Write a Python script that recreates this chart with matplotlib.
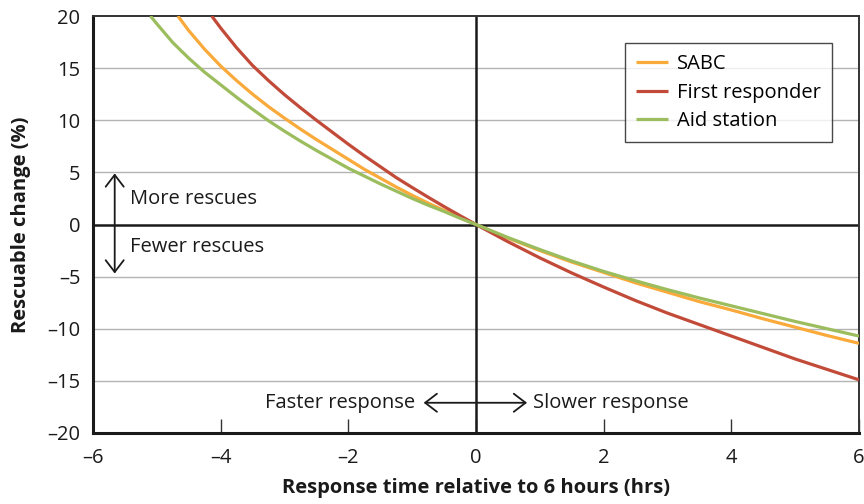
import matplotlib
matplotlib.use("Agg")
import matplotlib.pyplot as plt

plt.rcParams['font.family'] = ['Open Sans', 'DejaVu Sans']

# Data
sabc_x = [-4.67, -4.5, -4.25, -4.0, -3.75, -3.5, -3.25, -3.0, -2.75, -2.5, -2.25,
          -2.0, -1.75, -1.5, -1.25, -1.0, -0.75, -0.5, -0.25, 0.0,
          0.5, 1.0, 1.5, 2.0, 2.5, 3.0, 3.5, 4.0, 4.5, 5.0, 5.5, 6.0]
sabc_y = [20.0, 18.6, 16.8, 15.2, 13.8, 12.5, 11.3, 10.2, 9.15, 8.15, 7.2,
          6.25, 5.3, 4.45, 3.6, 2.8, 2.05, 1.35, 0.67, 0.0,
          -1.3, -2.5, -3.6, -4.6, -5.6, -6.5, -7.4, -8.2, -9.05, -9.85, -10.65, -11.4]

first_x = [-4.14, -4.0, -3.75, -3.5, -3.25, -3.0, -2.75, -2.5, -2.25, -2.0,
           -1.75, -1.5, -1.25, -1.0, -0.75, -0.5, -0.25, 0.0,
           0.5, 1.0, 1.5, 2.0, 2.5, 3.0, 3.5, 4.0, 4.5, 5.0, 5.5, 6.0]
first_y = [20.0, 18.85, 16.95, 15.25, 13.8, 12.45, 11.2, 10.0, 8.85, 7.7,
           6.6, 5.55, 4.5, 3.55, 2.62, 1.72, 0.85, 0.0,
           -1.65, -3.2, -4.65, -6.0, -7.3, -8.5, -9.6, -10.7, -11.8, -12.9, -13.9, -14.9]

aid_x = [-5.1, -5.0, -4.75, -4.5, -4.25, -4.0, -3.75, -3.5, -3.25, -3.0, -2.75,
         -2.5, -2.25, -2.0, -1.75, -1.5, -1.25, -1.0, -0.75, -0.5, -0.25, 0.0,
         0.5, 1.0, 1.5, 2.0, 2.5, 3.0, 3.5, 4.0, 4.5, 5.0, 5.5, 6.0]
aid_y = [20.0, 19.25, 17.45, 15.95, 14.6, 13.4, 12.2, 11.05, 9.95, 8.95, 8.0,
         7.1, 6.25, 5.4, 4.65, 3.9, 3.2, 2.5, 1.85, 1.25, 0.6, 0.0,
         -1.25, -2.4, -3.5, -4.5, -5.4, -6.25, -7.05, -7.8, -8.55, -9.3, -10.0, -10.7]

series_names = ["SABC", "First responder", "Aid station"]
series_colors = ["#F9AA3A", "#C24A38", "#9CBD5E"]

x_ticks = [-6, -4, -2, 0, 2, 4, 6]
y_ticks = [-20, -15, -10, -5, 0, 5, 10, 15, 20]

FS = 14.5

fig = plt.figure(figsize=(8.64, 5.04), dpi=100)
ax = fig.add_axes([93/864, 1-433/504, 766/864, 417/504])

ax.set_xlim(-6, 6)
ax.set_ylim(-20, 20)

# gridlines
for yv in y_ticks:
    if yv not in (-20, 0, 20):
        ax.axhline(yv, color="#b3b3b3", lw=1.0, zorder=1)
ax.axhline(0, color="#1a1a1a", lw=1.8, zorder=2)
ax.axvline(0, color="#1a1a1a", lw=1.8, zorder=2)

for xs, ys, name, col in zip([sabc_x, first_x, aid_x], [sabc_y, first_y, aid_y],
                             series_names, series_colors):
    ax.plot(xs, ys, color=col, lw=2.3, label=name, zorder=3,
            solid_capstyle='butt', solid_joinstyle='round')

ax.set_xticks(x_ticks)
ax.set_xticklabels([f"{v}".replace("-", "\u2013") for v in x_ticks])
ax.set_yticks(y_ticks)
ax.set_yticklabels([f"{v}".replace("-", "\u2013") for v in y_ticks])
ax.tick_params(axis='x', direction='in', length=10, width=1.0, color="#333333",
               labelsize=FS, pad=11, labelcolor="#1a1a1a")
ax.tick_params(axis='y', length=0, labelsize=FS, pad=9, labelcolor="#1a1a1a")

for side in ['left', 'bottom']:
    ax.spines[side].set_linewidth(2.2)
    ax.spines[side].set_color("#1a1a1a")
for side in ['top', 'right']:
    ax.spines[side].set_linewidth(1.4)
    ax.spines[side].set_color("#333333")

ax.set_xlabel("Response time relative to 6 hours (hrs)", fontsize=FS,
              fontweight='bold', labelpad=7, color="#1a1a1a")
ax.set_ylabel("Rescuable change (%)", fontsize=FS, fontweight='bold',
              labelpad=12, color="#1a1a1a")

# annotations
arrow_kw = dict(arrowstyle='<->,head_length=0.85,head_width=0.65', lw=1.3,
                color="#1a1a1a", shrinkA=0, shrinkB=0)
ax.annotate("", xy=(-5.66, 4.9), xytext=(-5.66, -4.7), arrowprops=arrow_kw, zorder=4)
ax.text(-5.42, 2.4, "More rescues", fontsize=FS, va='center', ha='left', color="#1a1a1a")
ax.text(-5.42, -2.2, "Fewer rescues", fontsize=FS, va='center', ha='left', color="#1a1a1a")

ax.annotate("", xy=(-0.82, -17.1), xytext=(0.8, -17.1), arrowprops=arrow_kw, zorder=4)
ax.text(-0.95, -17.1, "Faster response", fontsize=FS, va='center', ha='right', color="#1a1a1a")
ax.text(0.9, -17.1, "Slower response", fontsize=FS, va='center', ha='left', color="#1a1a1a")

leg = ax.legend(loc='upper right', bbox_to_anchor=(0.965, 0.935), borderaxespad=0,
                fontsize=FS, frameon=True, fancybox=False, handlelength=1.6,
                handletextpad=0.45, borderpad=0.55, labelspacing=0.42)
leg.get_frame().set_edgecolor("#1a1a1a")
leg.get_frame().set_linewidth(1.0)
leg.set_zorder(5)

fig.savefig("out.png", dpi=100)
